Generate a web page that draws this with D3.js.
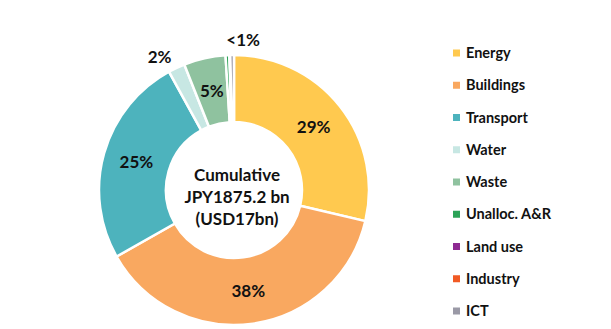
<!DOCTYPE html>
<html>
<head>
<meta charset="utf-8">
<script src="https://cdn.jsdelivr.net/npm/d3@7"></script>
<style>
  html, body { margin: 0; padding: 0; background: #fff; }
  svg { display: block; font-family: Lato, "Open Sans", sans-serif; }
</style>
</head>
<body>
<svg id="chart" width="611" height="329"></svg>
<script>
// ---- data ----
const categories = ["Energy", "Buildings", "Transport", "Water", "Waste", "Unalloc. A&R", "Land use", "Industry", "ICT"];
const shares = [28.7, 38.1, 25.2, 2.0, 5.0, 0.45, 0.05, 0.05, 0.45];
const colours = ["#FFC94F", "#F9A860", "#4DB3BD", "#C7E7E3", "#8FC29F", "#2BA357", "#8E2A92", "#F15A24", "#9A99A6"];
const insideLabels = ["29%", "38%", "25%", "", "5%", "", "", "", ""];
const outsideLabels = [
  { text: "2%", slices: [3] },
  { text: "<1%", slices: [5, 6, 7, 8] }
];
const centreLines = ["Cumulative", "JPY1875.2 bn", "(USD17bn)"];

// ---- layout ----
const svg = d3.select("#chart");
const cx = 234, cy = 190, rOuter = 135, rInner = 68;
const g = svg.append("g").attr("transform", `translate(${cx},${cy})`);

const pie = d3.pie().sort(null).value(d => d)(shares);
const arc = d3.arc().innerRadius(rInner).outerRadius(rOuter);

g.selectAll("path.slice").data(pie).join("path")
  .attr("class", "slice")
  .attr("d", arc)
  .attr("fill", (d, i) => colours[i])
  .attr("stroke", "#fff")
  .attr("stroke-width", 2.5)
  .attr("stroke-linejoin", "miter");

// inside labels at ring centroid
g.selectAll("text.in").data(pie).join("text")
  .attr("class", "in")
  .attr("transform", d => `translate(${arc.centroid(d)})`)
  .attr("text-anchor", "middle")
  .attr("dy", "0.36em")
  .attr("font-size", 17)
  .attr("font-weight", 700)
  .attr("fill", "#111")
  .text((d, i) => insideLabels[i]);

// outside labels
outsideLabels.forEach(lbl => {
  const s = lbl.slices.map(i => pie[i]);
  const a0 = d3.min(s, d => d.startAngle), a1 = d3.max(s, d => d.endAngle);
  const a = (a0 + a1) / 2;
  const r = lbl.text === "2%" ? 147 : 150;
  const x = r * Math.sin(a), y = -r * Math.cos(a);
  g.append("text")
    .attr("x", lbl.text === "2%" ? x : x - 3)
    .attr("y", y)
    .attr("dy", "0.36em")
    .attr("text-anchor", lbl.text === "2%" ? "end" : "start")
    .attr("font-size", 17)
    .attr("font-weight", 700)
    .attr("fill", "#111")
    .text(lbl.text);
});

// centre text
g.append("text")
  .attr("x", 3)
  .attr("text-anchor", "middle")
  .attr("font-size", 17)
  .attr("font-weight", 700)
  .attr("fill", "#111")
  .selectAll("tspan").data(centreLines).join("tspan")
  .attr("x", 3)
  .attr("y", (d, i) => -9 + i * 22)
  .text(d => d);

// legend
const legend = svg.append("g").attr("transform", "translate(453,53)");
const ly = d3.scalePoint().domain(categories).range([0, 258]);
const items = legend.selectAll("g").data(categories).join("g")
  .attr("transform", d => `translate(0,${ly(d)})`);
items.append("rect")
  .attr("x", 0).attr("y", -3.5).attr("width", 7).attr("height", 7)
  .attr("fill", (d, i) => colours[i]);
items.append("text")
  .attr("x", 13).attr("dy", "0.36em")
  .attr("font-size", 14.5)
  .attr("font-weight", 700)
  .attr("fill", "#111")
  .text(d => d);
</script>
</body>
</html>
